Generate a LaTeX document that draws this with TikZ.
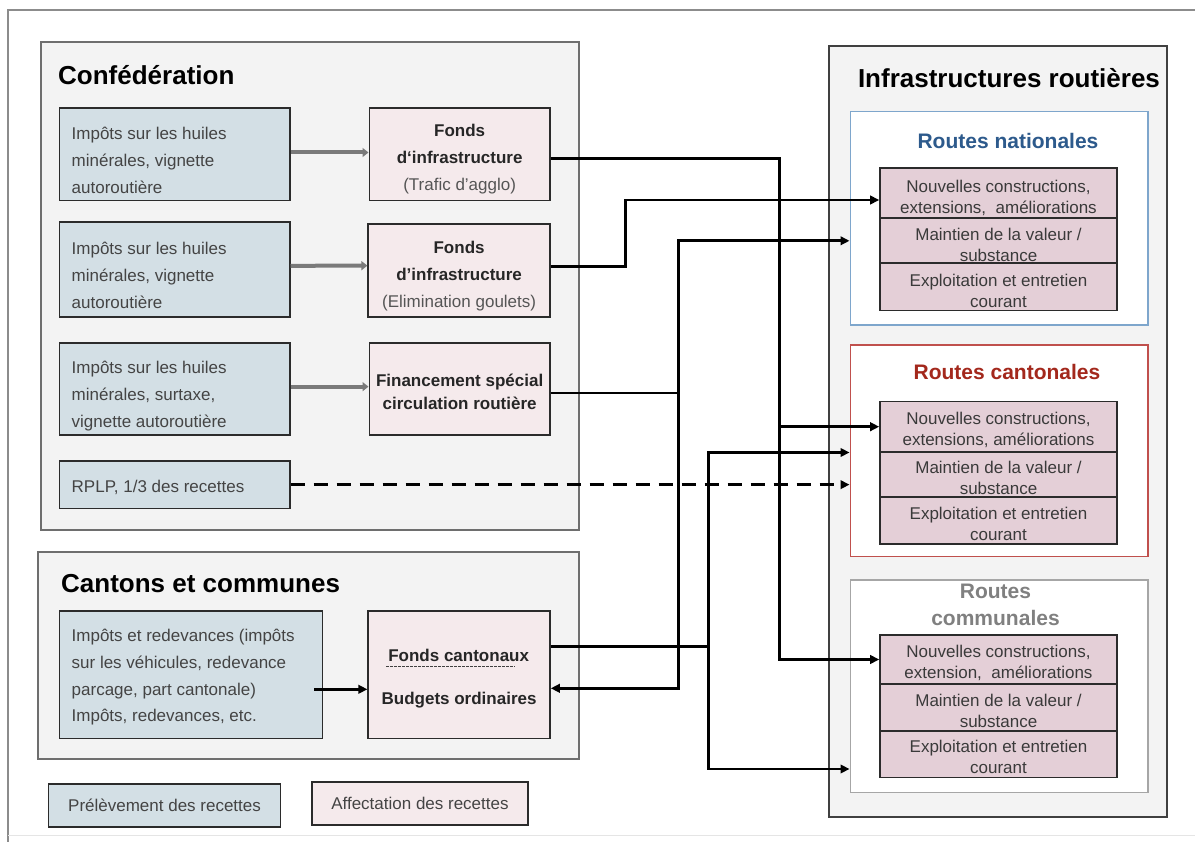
\documentclass[tikz,border=0pt]{standalone}
\usepackage{fontspec}
\setmainfont{Liberation Sans}
\usetikzlibrary{arrows.meta}

\definecolor{framegray}{HTML}{8C8C8C}
\definecolor{grpfill}{HTML}{F3F3F3}
\definecolor{grpline}{HTML}{6E6E6E}
\definecolor{srcfill}{HTML}{D3DFE5}
\definecolor{dstfill}{HTML}{F5EAEC}
\definecolor{subfill}{HTML}{E4CFD7}
\definecolor{boxline}{HTML}{2B2B2B}
\definecolor{srctext}{HTML}{444444}
\definecolor{subtext}{HTML}{3A3A3A}
\definecolor{softtext}{HTML}{555555}
\definecolor{natline}{HTML}{7EA6CC}
\definecolor{nattext}{HTML}{2D5A8C}
\definecolor{canline}{HTML}{C0504D}
\definecolor{cantext}{HTML}{A3281C}
\definecolor{comline}{HTML}{A6A6A6}
\definecolor{comtext}{HTML}{808080}
\definecolor{feedgray}{HTML}{7A7A7A}

\begin{document}
\begin{tikzpicture}[x=1pt,y=-1pt,
  box/.style={rectangle, draw=boxline, line width=1.6pt, inner sep=0pt, anchor=center},
  grp/.style={rectangle, draw=grpline, fill=grpfill, line width=2pt, inner sep=0pt, anchor=center},
  roads/.style={rectangle, fill=white, line width=1.4pt, inner sep=0pt, anchor=center,
                minimum width=297.7pt},
  src/.style={box, fill=srcfill},
  dst/.style={box, fill=dstfill},
  item/.style={box, fill=subfill, minimum width=237pt},
  srctxt/.style={anchor=west, inner sep=0pt, text=srctext, align=left,
                 font=\fontsize{17}{26.7}\selectfont},
  dsttxt/.style={inner sep=0pt, text=black!85, align=center,
                 font=\fontsize{17}{27}\selectfont},
  itemtxt/.style={inner sep=0pt, text=subtext, align=center,
                  font=\fontsize{17}{21}\selectfont},
  legendbox/.style={box, text=srctext, font=\fontsize{17}{21}\selectfont},
  heading/.style={font=\fontsize{26}{30}\selectfont\bfseries, inner sep=0pt},
  subheading/.style={font=\fontsize{21}{26.6}\selectfont\bfseries, inner sep=0pt, align=center},
  wire/.style={line width=2.7pt, draw=black},
  link/.style={wire, -{Triangle[length=9pt,width=8.5pt]}},
  feed/.style={line width=4pt, draw=feedgray, -{Triangle[length=6pt,width=9pt]}},
]
\useasboundingbox (0,0) rectangle (1195,842);
\fill[white] (0,0) rectangle (1195,842);

% page frame
\draw[framegray, line width=1.8pt] (1195,10) -- (8,10) -- (8,842);
\draw[black!10, line width=1pt] (8,835) -- (1195,835);

% groups
\node[grp, minimum width=537.3pt, minimum height=487.7pt] (conf) at (309.95,286.15) {};
\node[grp, minimum width=540.3pt, minimum height=207.6pt] (cant) at (308.45,655.5) {};
\node[grp, draw=boxline!90, minimum width=338.4pt, minimum height=771pt] (infra) at (998.2,431.2) {};

\node[heading, anchor=west] (tconf) at (58,75) {Confédération};
\node[heading, anchor=west] (tcant) at (61,584) {Cantons et communes};
\node[heading] (tinfra) at (1009,78) {Infrastructures routières};

% road categories
\node[roads, draw=natline, minimum height=213.3pt] (rn) at (999.05,218.35) {};
\node[roads, draw=canline, minimum height=211.7pt] (rc) at (999.05,450.85) {};
\node[roads, draw=comline, minimum height=212.7pt] (rco) at (999.05,686.35) {};

\node[subheading, text=nattext] (trn) at (1008,140.7) {Routes nationales};
\node[subheading, text=cantext] (trc) at (1007,371.7) {Routes cantonales};
\node[subheading, text=comtext] (trco) at (995.5,605) {Routes\\communales};

% items of each road category
\node[item, minimum height=50pt] (nNC) at (998.5,193.3) {};
\node[item, minimum height=45pt] (nMV) at (998.5,240.8) {};
\node[item, minimum height=47.4pt] (nEE) at (998.5,287) {};
\node[item, minimum height=50pt] (cNC) at (998.5,426.7) {};
\node[item, minimum height=45pt] (cMV) at (998.5,474.2) {};
\node[item, minimum height=47.3pt] (cEE) at (998.5,520.35) {};
\node[item, minimum height=49pt] (coNC) at (998.5,659.5) {};
\node[item, minimum height=46.7pt] (coMV) at (998.5,707.35) {};
\node[item, minimum height=46.6pt] (coEE) at (998.5,754) {};

\node[itemtxt] (nNCt) at ([yshift=-5pt]nNC.center) {Nouvelles constructions,\\extensions,\ \ améliorations};
\node[itemtxt] (nMVt) at ([yshift=-4pt]nMV.center) {Maintien de la valeur /\\substance};
\node[itemtxt] (nEEt) at ([yshift=-4pt]nEE.center) {Exploitation et entretien\\courant};
\node[itemtxt] (cNCt) at ([yshift=-3pt]cNC.center) {Nouvelles constructions,\\extensions, améliorations};
\node[itemtxt] (cMVt) at ([yshift=-4pt]cMV.center) {Maintien de la valeur /\\substance};
\node[itemtxt] (cEEt) at ([yshift=-4pt]cEE.center) {Exploitation et entretien\\courant};
\node[itemtxt] (coNCt) at ([yshift=-3.5pt]coNC.center) {Nouvelles constructions,\\extension,\ \ améliorations};
\node[itemtxt] (coMVt) at ([yshift=-4pt]coMV.center) {Maintien de la valeur /\\substance};
\node[itemtxt] (coEEt) at ([yshift=-3pt]coEE.center) {Exploitation et entretien\\courant};

% revenue sources
\node[src, minimum width=230.4pt, minimum height=92.4pt] (b1) at (174.5,154.5) {};
\node[src, minimum width=230.4pt, minimum height=95pt] (b2) at (174.5,269.8) {};
\node[src, minimum width=230.4pt, minimum height=91.7pt] (b3) at (174.5,389.15) {};
\node[src, minimum width=230.4pt, minimum height=47.3pt] (b5) at (174.5,484.65) {};
\node[src, minimum width=263.3pt, minimum height=127.6pt] (b4) at (190.95,674.5) {};

\node[srctxt] (b1t) at ([xshift=13pt,yshift=-6pt]b1.west) {Impôts sur les huiles\\minérales, vignette\\autoroutière};
\node[srctxt] (b2t) at ([xshift=13pt,yshift=-5.5pt]b2.west) {Impôts sur les huiles\\minérales, vignette\\autoroutière};
\node[srctxt] (b3t) at ([xshift=13pt,yshift=-7pt]b3.west) {Impôts sur les huiles\\minérales, surtaxe,\\vignette autoroutière};
\node[srctxt] (b5t) at ([xshift=13pt,yshift=-2.5pt]b5.west) {RPLP, 1/3 des recettes};
\node[srctxt] (b4t) at ([xshift=13pt,yshift=-3pt]b4.west) {Impôts et redevances (impôts\\sur les véhicules, redevance\\parcage, part cantonale)\\Impôts, redevances, etc.};

% allocation funds
\node[dst, minimum width=180.7pt, minimum height=92.4pt] (p1) at (459.65,154.5) {};
\node[dst, minimum width=181.8pt, minimum height=93.3pt] (p2) at (459.1,270.65) {};
\node[dst, minimum width=180.7pt, minimum height=91.7pt] (p3) at (459.65,389.15) {};
\node[dst, minimum width=181.8pt, minimum height=127.6pt] (p4) at (459.1,674.5) {};

\node[dsttxt] (p1t) at ([yshift=-5pt]p1.center)
  {\bfseries Fonds\\\bfseries d‘infrastructure\\{\color{softtext}(Trafic d'agglo)}};
\node[dsttxt] (p2t) at ([yshift=-5.5pt]p2.center)
  {\bfseries Fonds\\\bfseries d'infrastructure\\{\color{softtext}(Elimination goulets)}};
\node[dsttxt, font=\fontsize{17}{22.7}\selectfont\bfseries] (p3t) at ([yshift=-2.5pt]p3.center)
  {Financement spécial\\circulation routière};
\node[dsttxt, font=\fontsize{17}{21}\selectfont\bfseries] (fc) at (458.7,655) {Fonds cantonaux};
\node[dsttxt, font=\fontsize{17}{21}\selectfont\bfseries] (bo) at (459.1,700) {Budgets ordinaires};
\draw[black!75, line width=0.9pt, dash pattern=on 2.5pt off 1.5pt]
  ([xshift=-2pt,yshift=-5.5pt]fc.south west) -- ([xshift=-14pt,yshift=-5.5pt]fc.south east);

% legend
\node[legendbox, fill=srcfill, minimum width=231.9pt, minimum height=42.7pt] (lb) at (164.55,805.35) {Prélèvement des recettes};
\node[legendbox, fill=dstfill, minimum width=216.1pt, minimum height=43.3pt] (lp) at (419.95,803.35) {Affectation des recettes};

% feeding of the federal funds
\draw[feed] ([yshift=2pt]b1.east) -- ([yshift=2pt]p1.west);
\draw[feed] ([yshift=4pt]b2.east) -- ([yshift=5pt]p2.west);
\draw[feed] ([yshift=2.5pt]b3.east) -- ([yshift=2.5pt]p3.west);
\draw[link] ([xshift=-9pt,yshift=-14.8pt]b4.east) -- ([yshift=-14.8pt]p4.west);

% agglomeration traffic fund
\coordinate (ja) at (779.3,158.5);
\draw[link] ([yshift=-4pt]p1.east) -| (ja |- coNC.west) -- (coNC.west);
\draw[link] (ja |- cNC.west) -- (cNC.west);

% bottleneck fund
\draw[link] ([yshift=4pt]p2.east) -- ++(75,0) |- ([yshift=-6.7pt]nNC.west);

% special road financing
\draw[wire] ([yshift=-4pt]p3.east) -- ++(128,0) coordinate (jc);
\draw[link] (jc) |- (rn.west |- nMV.west);
\draw[link] (jc) |- ([yshift=-13.8pt]p4.east);

% cantonal funds
\draw[wire] ([yshift=27.8pt]p4.east) -- ++(157.7,0) coordinate (jd);
\coordinate (dlow) at ([yshift=-15pt]coEE.center);
\draw[link] (jd) |- (rc.west |- cNC.south);
\draw[link] (jd) |- (rco.west |- dlow);

% heavy vehicle fee share
\draw[link, line width=3pt, dash pattern=on 14pt off 9pt] (b5.east) -- (rc.west |- b5.east);
\end{tikzpicture}
\end{document}
